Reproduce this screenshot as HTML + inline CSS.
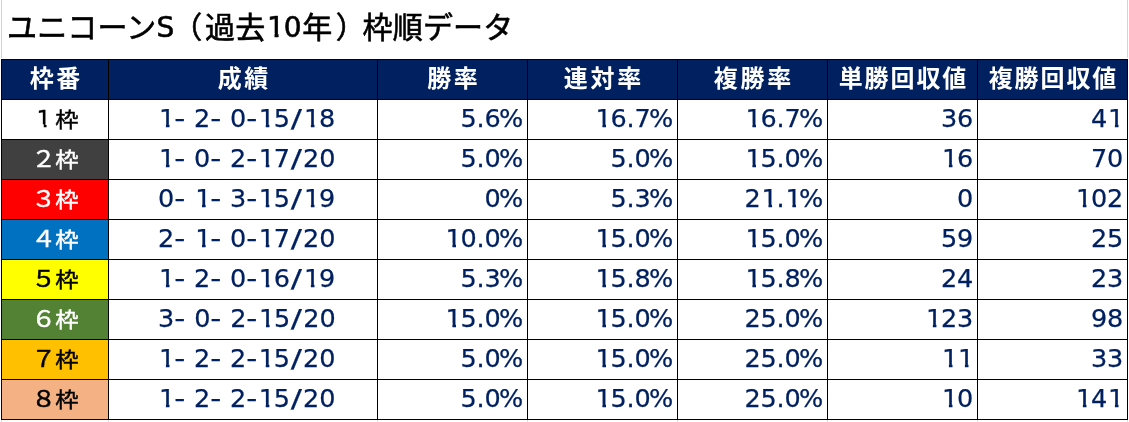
<!DOCTYPE html>
<html lang="ja"><head><meta charset="utf-8"><title>ユニコーンS（過去10年）枠順データ</title>
<style>
html,body{margin:0;padding:0;background:#fff;}
body{width:1129px;height:422px;position:relative;overflow:hidden;font-family:"Liberation Sans","Noto Sans CJK JP",sans-serif;}
.t{position:absolute;left:7px;top:6px;font-size:30px;font-weight:400;-webkit-text-stroke:0.6px #000;line-height:44px;color:#000;white-space:nowrap;letter-spacing:0.18px;}
.t .e{font-family:"DejaVu Sans","Liberation Sans",sans-serif;font-weight:normal;font-size:28px;-webkit-text-stroke:0.6px #000;position:relative;top:-0.8px;}
.t .s1{letter-spacing:0px;left:0px;margin-right:0.6px;}
.t .s2{letter-spacing:0.6px;left:0px;margin-right:0px;}
.t u{text-decoration:none;display:inline-block;width:18.4px;height:26px;line-height:26px;text-align:left;text-indent:1.7px;letter-spacing:0;clip-path:polygon(0 0,100% 0,100% 18.0px,13.2px 18.0px,13.2px 100%,9.2px 100%,9.2px 18.0px,0 18.0px);}
.t .p1{position:relative;left:-2.5px;}
.t .p2{position:relative;left:3.5px;}
.g{position:absolute;background:#d4d4d4;}
.tb{position:absolute;left:1px;top:59px;width:1127px;height:361px;background:#000;}
.c{position:absolute;height:39px;line-height:39px;white-space:nowrap;overflow:hidden;box-sizing:border-box;background:#fff;}
.h{background:#002060;color:#fff;font-weight:bold;text-align:center;font-size:24px;letter-spacing:2.7px;padding-left:2.7px;}
.h span{position:relative;top:-0.6px;}
.l{text-align:center;font-size:22px;font-weight:400;-webkit-text-stroke-width:0.45px;letter-spacing:2.2px;padding-left:2.2px;}
.l u{text-decoration:none;display:inline-block;font-family:"DejaVu Sans","Liberation Sans",sans-serif;font-weight:normal;font-size:22.8px;-webkit-text-stroke-width:0.3px;width:22px;height:20px;line-height:20px;text-align:left;text-indent:4.5px;letter-spacing:0;margin-right:2.2px;clip-path:polygon(0 0,100% 0,100% 15.2px,14.6px 15.2px,14.6px 100%,11.9px 100%,11.9px 15.2px,0 15.2px);}
.l b{display:inline-block;font-weight:inherit;transform:translateX(0.8px) scale(1.13,1.03);}
.l em{display:inline-block;font-style:normal;transform:scale(1.06,0.95);}
.l span{position:relative;top:0px;}
.n{color:#002060;font-family:"DejaVu Sans","Liberation Sans","Noto Sans CJK JP",sans-serif;font-size:25.5px;letter-spacing:-0.2px;text-align:right;padding-right:4px;-webkit-text-stroke:0.25px #002060;}
.n span{position:relative;top:-0.6px;}
.n u{text-decoration:none;display:inline-block;width:16.0px;height:24px;line-height:24px;vertical-align:baseline;text-align:left;text-indent:1.0px;letter-spacing:0;clip-path:polygon(0 0,100% 0,100% 17.1px,11.5px 17.1px,11.5px 100%,7.9px 100%,7.9px 17.1px,0 17.1px);}
.n b{font-weight:normal;margin-left:-1.5px;}
.r{text-align:left;padding-right:0;padding-left:49px;letter-spacing:0px;}
.r i{font-style:normal;display:inline-block;text-align:center;letter-spacing:0;}
.r i.y{width:11.6px;transform:scaleX(1.2);}
.r i.z{width:12.9px;transform:scaleX(1.3);}
.r i.w{width:8.3px;}
</style></head><body>

<div class="g" style="left:1px;top:0;width:1px;height:58px"></div>
<div class="g" style="left:1127px;top:0;width:1px;height:58px"></div>
<div class="g" style="left:1px;top:420px;width:1px;height:2px;background:#e0e0e0"></div>
<div class="g" style="left:108px;top:420px;width:1px;height:2px;background:#e0e0e0"></div>
<div class="g" style="left:377px;top:420px;width:1px;height:2px;background:#e0e0e0"></div>
<div class="g" style="left:527px;top:420px;width:1px;height:2px;background:#e0e0e0"></div>
<div class="g" style="left:677px;top:420px;width:1px;height:2px;background:#e0e0e0"></div>
<div class="g" style="left:827px;top:420px;width:1px;height:2px;background:#e0e0e0"></div>
<div class="g" style="left:977px;top:420px;width:1px;height:2px;background:#e0e0e0"></div>
<div class="g" style="left:1127px;top:420px;width:1px;height:2px;background:#e0e0e0"></div>
<div class="t">ユニコーン<span class="e s1">S</span><span class="p1">（</span>過去<span class="e s2"><u>1</u>0</span>年<span class="p2">）</span>枠順データ</div>
<div class="tb">
<div class="c h" style="left:1px;top:1px;width:106px;"><span>枠番</span></div>
<div class="c h" style="left:108px;top:1px;width:268px;"><span>成績</span></div>
<div class="c h" style="left:377px;top:1px;width:149px;"><span>勝率</span></div>
<div class="c h" style="left:527px;top:1px;width:149px;"><span>連対率</span></div>
<div class="c h" style="left:677px;top:1px;width:149px;"><span>複勝率</span></div>
<div class="c h" style="left:827px;top:1px;width:149px;letter-spacing:1.9px;padding-left:1.9px;"><span>単勝回収値</span></div>
<div class="c h" style="left:977px;top:1px;width:149px;letter-spacing:1.9px;padding-left:1.9px;"><span>複勝回収値</span></div>
<div class="c l" style="left:1px;top:41px;width:106px;background:#ffffff;color:#000000;"><span><u>1</u><em>枠</em></span></div>
<div class="c n r" style="left:108px;top:41px;width:268px;"><span><u>1</u><i class="y">-</i><i class="w"> </i>2<i class="y">-</i><i class="w"> </i>0<i class="y">-</i><u>1</u>5<i class="z">/</i><u>1</u>8</span></div>
<div class="c n" style="left:377px;top:41px;width:149px;"><span>5.6<b>%</b></span></div>
<div class="c n" style="left:527px;top:41px;width:149px;"><span><u>1</u>6.7<b>%</b></span></div>
<div class="c n" style="left:677px;top:41px;width:149px;"><span><u>1</u>6.7<b>%</b></span></div>
<div class="c n" style="left:827px;top:41px;width:149px;"><span>36</span></div>
<div class="c n" style="left:977px;top:41px;width:149px;"><span>4<u>1</u></span></div>
<div class="c l" style="left:1px;top:81px;width:106px;background:#404040;color:#ffffff;"><span><b>２</b><em>枠</em></span></div>
<div class="c n r" style="left:108px;top:81px;width:268px;"><span><u>1</u><i class="y">-</i><i class="w"> </i>0<i class="y">-</i><i class="w"> </i>2<i class="y">-</i><u>1</u>7<i class="z">/</i>20</span></div>
<div class="c n" style="left:377px;top:81px;width:149px;"><span>5.0<b>%</b></span></div>
<div class="c n" style="left:527px;top:81px;width:149px;"><span>5.0<b>%</b></span></div>
<div class="c n" style="left:677px;top:81px;width:149px;"><span><u>1</u>5.0<b>%</b></span></div>
<div class="c n" style="left:827px;top:81px;width:149px;"><span><u>1</u>6</span></div>
<div class="c n" style="left:977px;top:81px;width:149px;"><span>70</span></div>
<div class="c l" style="left:1px;top:121px;width:106px;background:#ff0000;color:#ffffff;"><span><b>３</b><em>枠</em></span></div>
<div class="c n r" style="left:108px;top:121px;width:268px;"><span>0<i class="y">-</i><i class="w"> </i><u>1</u><i class="y">-</i><i class="w"> </i>3<i class="y">-</i><u>1</u>5<i class="z">/</i><u>1</u>9</span></div>
<div class="c n" style="left:377px;top:121px;width:149px;"><span>0<b>%</b></span></div>
<div class="c n" style="left:527px;top:121px;width:149px;"><span>5.3<b>%</b></span></div>
<div class="c n" style="left:677px;top:121px;width:149px;"><span>2<u>1</u>.<u>1</u><b>%</b></span></div>
<div class="c n" style="left:827px;top:121px;width:149px;"><span>0</span></div>
<div class="c n" style="left:977px;top:121px;width:149px;"><span><u>1</u>02</span></div>
<div class="c l" style="left:1px;top:161px;width:106px;background:#0070c0;color:#ffffff;"><span><b>４</b><em>枠</em></span></div>
<div class="c n r" style="left:108px;top:161px;width:268px;"><span>2<i class="y">-</i><i class="w"> </i><u>1</u><i class="y">-</i><i class="w"> </i>0<i class="y">-</i><u>1</u>7<i class="z">/</i>20</span></div>
<div class="c n" style="left:377px;top:161px;width:149px;"><span><u>1</u>0.0<b>%</b></span></div>
<div class="c n" style="left:527px;top:161px;width:149px;"><span><u>1</u>5.0<b>%</b></span></div>
<div class="c n" style="left:677px;top:161px;width:149px;"><span><u>1</u>5.0<b>%</b></span></div>
<div class="c n" style="left:827px;top:161px;width:149px;"><span>59</span></div>
<div class="c n" style="left:977px;top:161px;width:149px;"><span>25</span></div>
<div class="c l" style="left:1px;top:201px;width:106px;background:#ffff00;color:#000000;"><span><b>５</b><em>枠</em></span></div>
<div class="c n r" style="left:108px;top:201px;width:268px;"><span><u>1</u><i class="y">-</i><i class="w"> </i>2<i class="y">-</i><i class="w"> </i>0<i class="y">-</i><u>1</u>6<i class="z">/</i><u>1</u>9</span></div>
<div class="c n" style="left:377px;top:201px;width:149px;"><span>5.3<b>%</b></span></div>
<div class="c n" style="left:527px;top:201px;width:149px;"><span><u>1</u>5.8<b>%</b></span></div>
<div class="c n" style="left:677px;top:201px;width:149px;"><span><u>1</u>5.8<b>%</b></span></div>
<div class="c n" style="left:827px;top:201px;width:149px;"><span>24</span></div>
<div class="c n" style="left:977px;top:201px;width:149px;"><span>23</span></div>
<div class="c l" style="left:1px;top:241px;width:106px;background:#548235;color:#ffffff;"><span><b>６</b><em>枠</em></span></div>
<div class="c n r" style="left:108px;top:241px;width:268px;"><span>3<i class="y">-</i><i class="w"> </i>0<i class="y">-</i><i class="w"> </i>2<i class="y">-</i><u>1</u>5<i class="z">/</i>20</span></div>
<div class="c n" style="left:377px;top:241px;width:149px;"><span><u>1</u>5.0<b>%</b></span></div>
<div class="c n" style="left:527px;top:241px;width:149px;"><span><u>1</u>5.0<b>%</b></span></div>
<div class="c n" style="left:677px;top:241px;width:149px;"><span>25.0<b>%</b></span></div>
<div class="c n" style="left:827px;top:241px;width:149px;"><span><u>1</u>23</span></div>
<div class="c n" style="left:977px;top:241px;width:149px;"><span>98</span></div>
<div class="c l" style="left:1px;top:281px;width:106px;background:#ffc000;color:#000000;"><span><b>７</b><em>枠</em></span></div>
<div class="c n r" style="left:108px;top:281px;width:268px;"><span><u>1</u><i class="y">-</i><i class="w"> </i>2<i class="y">-</i><i class="w"> </i>2<i class="y">-</i><u>1</u>5<i class="z">/</i>20</span></div>
<div class="c n" style="left:377px;top:281px;width:149px;"><span>5.0<b>%</b></span></div>
<div class="c n" style="left:527px;top:281px;width:149px;"><span><u>1</u>5.0<b>%</b></span></div>
<div class="c n" style="left:677px;top:281px;width:149px;"><span>25.0<b>%</b></span></div>
<div class="c n" style="left:827px;top:281px;width:149px;"><span><u>1</u><u>1</u></span></div>
<div class="c n" style="left:977px;top:281px;width:149px;"><span>33</span></div>
<div class="c l" style="left:1px;top:321px;width:106px;background:#f4b183;color:#000000;"><span><b>８</b><em>枠</em></span></div>
<div class="c n r" style="left:108px;top:321px;width:268px;"><span><u>1</u><i class="y">-</i><i class="w"> </i>2<i class="y">-</i><i class="w"> </i>2<i class="y">-</i><u>1</u>5<i class="z">/</i>20</span></div>
<div class="c n" style="left:377px;top:321px;width:149px;"><span>5.0<b>%</b></span></div>
<div class="c n" style="left:527px;top:321px;width:149px;"><span><u>1</u>5.0<b>%</b></span></div>
<div class="c n" style="left:677px;top:321px;width:149px;"><span>25.0<b>%</b></span></div>
<div class="c n" style="left:827px;top:321px;width:149px;"><span><u>1</u>0</span></div>
<div class="c n" style="left:977px;top:321px;width:149px;"><span><u>1</u>4<u>1</u></span></div>
</div>
</body></html>
